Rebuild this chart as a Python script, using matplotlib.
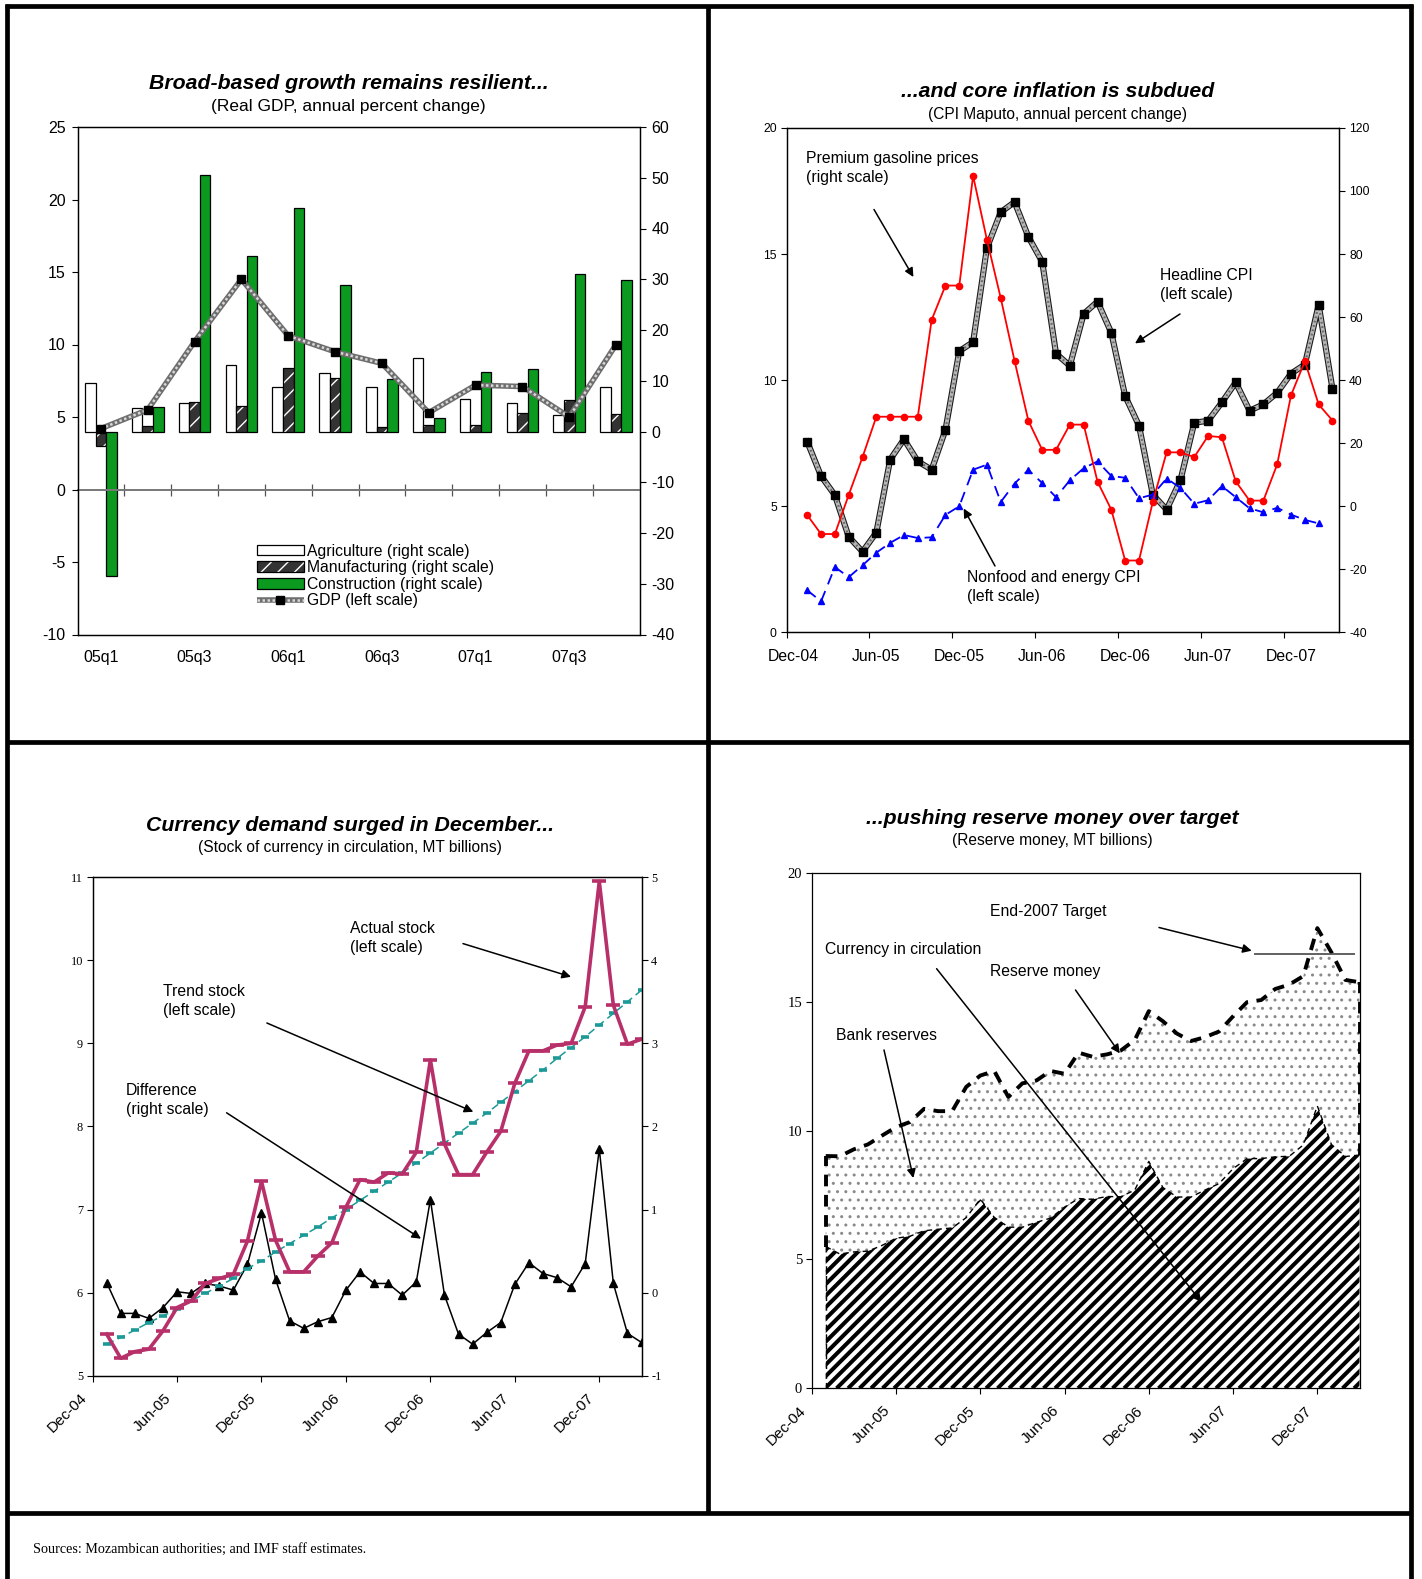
import numpy as np
import matplotlib
matplotlib.use('Agg')
import matplotlib.pyplot as plt
import matplotlib.transforms as mtransforms
from matplotlib.lines import Line2D
from matplotlib.collections import LineCollection
from matplotlib.legend_handler import HandlerTuple

W, H = 1422, 1579
SANS = 'Liberation Sans'
SERIF = 'Liberation Serif'
plt.rcParams['font.family'] = SANS
plt.rcParams['axes.unicode_minus'] = False

# ---------------- data ----------------
# panel 1: real GDP by quarter
quarters = ['05q1', '05q2', '05q3', '05q4', '06q1', '06q2',
            '06q3', '06q4', '07q1', '07q2', '07q3', '07q4']
agriculture = [9.5, 4.6, 5.6, 13.2, 8.7, 11.6, 8.7, 14.4, 6.5, 5.6, 3.2, 8.7]
manufacturing = [-2.9, 1.1, 5.8, 5.1, 12.5, 10.5, 0.8, 1.3, 1.2, 3.7, 6.3, 3.5]
construction = [-28.5, 4.9, 50.5, 34.6, 44.1, 28.9, 10.4, 2.7, 11.7, 12.3, 31.1, 29.9]
gdp = [4.2, 5.5, 10.2, 14.5, 10.6, 9.5, 8.7, 5.3, 7.2, 7.1, 5.0, 10.0]

# months counted from Dec-04 (=0); series run Jan-05 .. Mar-08
month_labels = ['Dec-04', 'Jun-05', 'Dec-05', 'Jun-06', 'Dec-06', 'Jun-07', 'Dec-07']
label_months = [0, 6, 12, 18, 24, 30, 36]
months = np.arange(1, 40)

# panel 2: CPI Maputo
headline_cpi = [7.56, 6.20, 5.44, 3.79, 3.20, 3.96, 6.85, 7.66, 6.78, 6.45,
                8.03, 11.15, 11.51, 15.24, 16.66, 17.06, 15.68, 14.69, 11.05, 10.57,
                12.63, 13.11, 11.88, 9.37, 8.20, 5.46, 4.87, 6.03, 8.31, 8.39,
                9.12, 9.91, 8.79, 9.04, 9.50, 10.26, 10.62, 12.99, 9.65]
gasoline = [-2.8, -8.8, -8.8, 3.6, 15.6, 28.4, 28.4, 28.4, 28.4, 59.1,
            70.0, 70.0, 104.8, 84.5, 66.0, 46.1, 27.1, 17.9, 17.9, 25.9,
            25.9, 7.8, -1.1, -17.2, -17.2, 1.4, 17.1, 17.1, 15.6, 22.3,
            21.9, 7.9, 1.8, 1.8, 13.3, 35.2, 46.0, 32.3, 27.2]
nonfood_cpi = [1.67, 1.23, 2.59, 2.19, 2.66, 3.16, 3.55, 3.86, 3.74, 3.77,
               4.66, 5.00, 6.45, 6.65, 5.17, 5.90, 6.44, 5.92, 5.36, 6.03,
               6.51, 6.78, 6.20, 6.13, 5.32, 5.46, 6.10, 5.73, 5.10, 5.24,
               5.80, 5.36, 4.92, 4.76, 4.94, 4.67, 4.46, 4.32]

# panel 3: currency in circulation (MT billions)
actual_stock = [5.50, 5.21, 5.29, 5.32, 5.54, 5.82, 5.90, 6.11, 6.17, 6.22,
                6.62, 7.34, 6.63, 6.25, 6.25, 6.44, 6.60, 7.03, 7.36, 7.33,
                7.44, 7.43, 7.69, 8.80, 7.79, 7.42, 7.42, 7.69, 7.94, 8.52,
                8.91, 8.91, 8.98, 9.00, 9.44, 10.95, 9.46, 8.99, 9.05]
trend_stock = [5.38, 5.46, 5.55, 5.64, 5.72, 5.80, 5.90, 5.99, 6.08, 6.17,
               6.29, 6.38, 6.49, 6.59, 6.69, 6.79, 6.90, 7.00, 7.11, 7.22,
               7.33, 7.44, 7.56, 7.68, 7.80, 7.92, 8.04, 8.16, 8.29, 8.42,
               8.55, 8.68, 8.82, 8.95, 9.08, 9.22, 9.36, 9.50, 9.64]
difference = [0.12, -0.25, -0.25, -0.31, -0.18, 0.01, -0.01, 0.11, 0.08, 0.03,
              0.34, 0.96, 0.16, -0.34, -0.43, -0.35, -0.30, 0.03, 0.25, 0.11,
              0.11, -0.03, 0.13, 1.12, -0.03, -0.50, -0.62, -0.48, -0.36, 0.10,
              0.36, 0.23, 0.18, 0.07, 0.35, 1.73, 0.11, -0.49, -0.60]

# panel 4: reserve money (MT billions)
reserve_money = [9.01, 9.00, 9.27, 9.46, 9.80, 10.13, 10.33, 10.84, 10.75, 10.75,
                 11.69, 12.13, 12.31, 11.30, 11.83, 11.94, 12.31, 12.20, 13.02, 12.86,
                 12.95, 13.10, 13.51, 14.63, 14.24, 13.76, 13.47, 13.62, 13.84, 14.43,
                 14.98, 15.06, 15.49, 15.66, 15.99, 17.85, 16.91, 15.84, 15.75]
currency = actual_stock
target_value = 16.86
target_span = (31.5, 38.7)

# ---------------- helpers ----------------
fig = plt.figure(figsize=(W / 100, H / 100), dpi=100)


def fx(x):
    return x / W


def fy(y):
    return 1 - y / H


def add_axes(l, t, r, b):
    return fig.add_axes([fx(l), fy(b), (r - l) / W, (b - t) / H])


def titles(xc, y1, y2, title, sub, subsize=11.2):
    fig.text(fx(xc), fy(y1 + 2), title, ha='center', va='center', fontsize=15.3,
             fontweight='bold', fontstyle='italic')
    fig.text(fx(xc), fy(y2 + 2), sub, ha='center', va='center', fontsize=subsize)


def note(text, x, y, tail, head):
    fig.text(fx(x), fy(y + 4), text, ha='left', va='top', fontsize=11.3, linespacing=1.3)
    fig.add_artist(plt.Annotation('', xy=(fx(head[0]), fy(head[1])), xycoords='figure fraction',
                                  xytext=(fx(tail[0]), fy(tail[1])), textcoords='figure fraction',
                                  arrowprops=dict(arrowstyle='-|>', color='black', lw=1.1,
                                                  mutation_scale=13, shrinkA=0, shrinkB=0)))


def thin_spines(ax):
    for s in ax.spines.values():
        s.set_linewidth(0.9)


def slanted_dates(ax):
    ax.set_xticks(label_months, month_labels)
    ax.tick_params(axis='x', direction='out', length=4, pad=10.5, labelsize=11)
    shift = mtransforms.ScaledTranslation(-0.08, 0, fig.dpi_scale_trans)
    for lab in ax.get_xticklabels():
        lab.set_rotation(45)
        lab.set_ha('right')
        lab.set_va('center')
        lab.set_rotation_mode('anchor')
        lab.set_transform(lab.get_transform() + shift)


# ---------------- panel 1 ----------------
titles(348.4, 81.6, 104.7, 'Broad-based growth remains resilient...',
       '(Real GDP, annual percent change)', subsize=12.5)
ax1 = add_axes(77.5, 127, 639.5, 634.5)
ax1g = ax1.twinx()
ax1.yaxis.tick_right()
ax1g.yaxis.tick_left()
xq = np.arange(len(quarters))
bw = 0.225
b_agri = ax1.bar(xq - bw, agriculture, bw, color='white', edgecolor='black', lw=0.9)
b_manu = ax1.bar(xq, manufacturing, bw, color='#333333', edgecolor='white', hatch='//', lw=0)
b_manu_e = ax1.bar(xq, manufacturing, bw, fill=False, edgecolor='black', lw=0.9)
b_cons = ax1.bar(xq + bw, construction, bw, color='#0b9a1f', edgecolor='black', lw=0.9)
ax1.set_ylim(-40, 60)
ax1.set_yticks(range(-40, 61, 10))
ax1.set_xlim(-0.5, len(quarters) - 0.5)
ax1.set_xticks(xq[::2], quarters[::2])
ax1.tick_params(axis='x', length=0, pad=11.5, labelsize=11.5)
ax1.tick_params(axis='y', direction='out', length=4, pad=4.5, labelsize=11.5)

zero_axis = ax1g.secondary_xaxis(10 / 35)
zero_axis.set_xticks(xq[:-1] + 0.5)
zero_axis.tick_params(axis='x', direction='inout', length=8, width=0.9, color='#555555',
                      labelbottom=False, labeltop=False)
for s in zero_axis.spines.values():
    s.set_color('#777777')
    s.set_linewidth(1.4)

g_out, = ax1g.plot(xq, gdp, color='#6e6e6e', lw=4.0, solid_capstyle='butt', zorder=3)
g_in, = ax1g.plot(xq, gdp, color='#d8d8d8', lw=1.8, ls=(0, (1, 1)), marker='s', ms=6,
                  mfc='black', mec='black', zorder=4)
ax1g.set_ylim(-10, 25)
ax1g.set_yticks(range(-10, 26, 5))
ax1g.tick_params(axis='y', direction='out', length=4, pad=4.5, labelsize=11.5)
thin_spines(ax1)
thin_spines(ax1g)
ax1g.legend([b_agri, (b_manu, b_manu_e), b_cons, (g_out, g_in)],
            ['Agriculture (right scale)', 'Manufacturing (right scale)',
             'Construction (right scale)', 'GDP (left scale)'],
            handler_map={tuple: HandlerTuple(ndivide=1)},
            loc='upper left', bbox_to_anchor=(0.319, 0.179), frameon=False,
            fontsize=11.3, handlelength=3.0, handleheight=0.65, handletextpad=0.2,
            labelspacing=0.1, borderpad=0, borderaxespad=0)

# ---------------- panel 2 ----------------
titles(1058, 89.6, 112.8, '...and core inflation is subdued',
       '(CPI Maputo, annual percent change)')
ax2 = add_axes(786.5, 127.9, 1339.4, 632.4)
ax2r = ax2.twinx()
ax2.plot(months, headline_cpi, color='#1a1a1a', lw=4.4, solid_joinstyle='round', zorder=3)
ax2.plot(months, headline_cpi, color='#b8b8b8', lw=2.8, solid_joinstyle='round', zorder=4)
ax2.plot(months, headline_cpi, color='#6a6a6a', lw=1.6, ls=(0, (0.8, 1.2)),
         marker='s', ms=5.5, mfc='black', mec='black', zorder=4)
ax2.plot(months[:len(nonfood_cpi)], nonfood_cpi, color='#0000ff', lw=1.3, ls=(0, (6, 4)),
         marker='^', ms=5, mfc='#0000ff', mec='#0000ff', zorder=5)
ax2r.plot(months, gasoline, color='#ff0000', lw=1.3, marker='o', ms=4.5,
          mfc='#ff0000', mec='#ff0000')
ax2.set_xlim(-0.5, 39.5)
ax2.set_ylim(0, 20)
ax2.set_yticks(range(0, 21, 5))
ax2r.set_ylim(-40, 120)
ax2r.set_yticks(range(-40, 121, 20))
ax2.set_xticks(np.array(label_months) - 0.5, [''] * len(label_months))
ax2.set_xticks(label_months, month_labels, minor=True)
ax2.tick_params(axis='x', which='major', direction='out', length=4)
ax2.tick_params(axis='x', which='minor', length=0, pad=11.8, labelsize=11.3)
ax2.tick_params(axis='y', direction='out', length=4, pad=3, labelsize=8.7)
ax2r.tick_params(axis='y', direction='out', length=4, pad=3, labelsize=8.7)
thin_spines(ax2)
thin_spines(ax2r)
note('Premium gasoline prices\n(right scale)', 805.7, 147.5, (874, 209.5), (913.4, 277))
note('Headline CPI\n(left scale)', 1160, 264, (1180, 314), (1135, 343.4))
note('Nonfood and energy CPI\n(left scale)', 966.8, 566, (995, 566), (963.7, 508.5))

# ---------------- panel 3 ----------------
titles(350.4, 823.7, 845.9, 'Currency demand surged in December...',
       '(Stock of currency in circulation, MT billions)')
ax3 = add_axes(92.6, 877.2, 641.5, 1375.7)
ax3r = ax3.twinx()
ax3r.plot(months, difference, color='black', lw=1.1, marker='^', ms=5.5)
ax3.plot(months, trend_stock, color='#1b9a98', lw=1.1, ls=(0, (5, 3)), marker='_',
         ms=6, mew=2.6)
ax3.plot(months, actual_stock, color='#b8306a', lw=2.6, marker='_', ms=10, mew=2.6)
ax3.set_zorder(ax3r.get_zorder() + 1)
ax3.patch.set_visible(False)
ax3r.patch.set_visible(True)
ax3.set_xlim(0, 39)
ax3.set_ylim(5, 11)
ax3r.set_ylim(-1, 5)
slanted_dates(ax3)
ax3.tick_params(axis='y', direction='out', length=4, pad=3, labelsize=8.8, labelfontfamily=SERIF)
ax3r.tick_params(axis='y', direction='out', length=4, pad=3, labelsize=8.8, labelfontfamily=SERIF)
thin_spines(ax3)
thin_spines(ax3r)
note('Actual stock\n(left scale)', 350.4, 917, (463, 943.6), (571, 976.8))
note('Trend stock\n(left scale)', 163, 980.5, (266.9, 1023), (473.3, 1111.8))
note('Difference\n(right scale)', 125.9, 1079, (226.6, 1112.8), (421, 1238.7))

# ---------------- panel 4 ----------------
titles(1052.4, 816.7, 838.9, '...pushing reserve money over target',
       '(Reserve money, MT billions)')
ax4_box = (811.7, 872.7, 1359.5, 1388.3)
ax4 = add_axes(*ax4_box)
cur = np.array(currency)
res = np.array(reserve_money)
ax4.fill_between(months, cur, res, facecolor='white', edgecolor='#8a8a8a',
                 hatch='..', lw=0, zorder=1)
base = ax4.fill_between(months, 0, cur, facecolor='white', lw=0, zorder=2)

# diagonal stripes clipped to the currency area
aw = ax4_box[2] - ax4_box[0]
ah = ax4_box[3] - ax4_box[1]
offs = np.arange(-ah, aw, 11.5)
segs = [[(c / aw, 0), ((c + ah) / aw, 1)] for c in offs]
stripes = LineCollection(segs, colors='black', linewidths=2.9, transform=ax4.transAxes,
                         zorder=3)
ax4.add_collection(stripes, autolim=False)
stripes.set_clip_path(base.get_paths()[0], ax4.transData)

thick = dict(color='black', lw=2.8, ls=(0, (3, 2.2)), zorder=4)
ax4.plot(months, res, **thick)
ax4.vlines([months[0], months[-1]], [cur[0], cur[-1]], [res[0], res[-1]], **thick)
thin = dict(color='black', lw=1.0, ls=(0, (4, 3)), zorder=4)
ax4.plot(months, cur, **thin)
ax4.vlines([months[0]], [0], [cur[0]], **thin)
ax4.hlines(target_value, *target_span, color='#555555', lw=1.3, zorder=5)
ax4.set_xlim(0, 39)
ax4.set_ylim(0, 20)
ax4.set_yticks(range(0, 21, 5))
slanted_dates(ax4)
ax4.tick_params(axis='y', direction='out', length=4, pad=3, labelsize=10.5, labelfontfamily=SERIF)
thin_spines(ax4)
note('End-2007 Target', 990, 900, (1159, 927.5), (1251.7, 950.7))
note('Currency in circulation', 824.8, 938, (936.6, 968.7), (1201.4, 1302))
note('Reserve money', 990, 960, (1075.5, 990), (1119.8, 1053.4))
note('Bank reserves', 835.8, 1023.5, (884, 1050), (913.4, 1178))

# ---------------- frame and footer ----------------
frame = [((7, 4), (7, 1579)), ((1411, 4), (1411, 1579)), ((5, 6), (1413, 6)),
         ((708, 6), (708, 1513)), ((7, 742), (1411, 742)), ((7, 1513), (1411, 1513))]
for (x0, y0), (x1, y1) in frame:
    fig.add_artist(Line2D([fx(x0), fx(x1)], [fy(y0), fy(y1)], color='black', lw=3.4,
                          solid_capstyle='butt'))
fig.text(fx(33), fy(1549), 'Sources: Mozambican authorities; and IMF staff estimates.',
         ha='left', va='center', fontsize=10.2, family=SERIF)

fig.savefig('out.png', dpi=100)
